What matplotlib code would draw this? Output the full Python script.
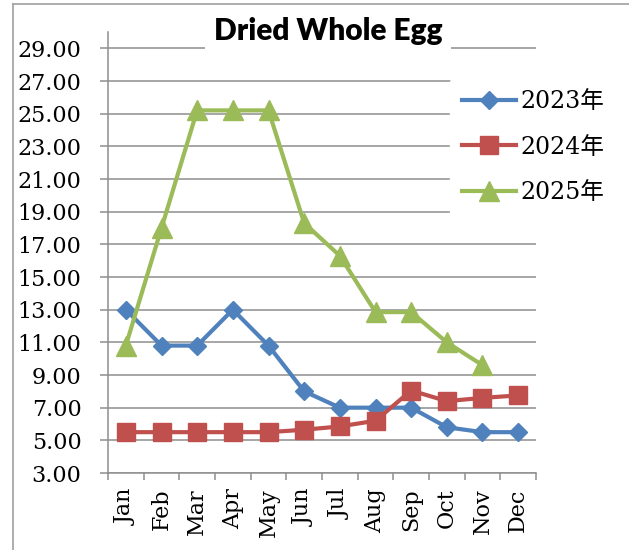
import matplotlib
matplotlib.use("Agg")
import matplotlib.pyplot as plt
from matplotlib.lines import Line2D
import numpy as np

months = ["Jan", "Feb", "Mar", "Apr", "May", "Jun", "Jul", "Aug", "Sep", "Oct", "Nov", "Dec"]
y2023 = [13.0, 10.8, 10.8, 13.0, 10.8, 8.0, 7.0, 7.0, 7.0, 5.8, 5.5, 5.5]
y2024 = [5.5, 5.5, 5.5, 5.5, 5.5, 5.65, 5.85, 6.2, 8.05, 7.4, 7.6, 7.75]
y2025 = [10.8, 18.0, 25.2, 25.2, 25.2, 18.3, 16.3, 12.85, 12.85, 11.0, 9.6]
yticks = [3, 5, 7, 9, 11, 13, 15, 17, 19, 21, 23, 25, 27, 29]

serif = ["DejaVu Serif", "Noto Sans CJK JP"]
grid_col = "#8e8e8e"

fig = plt.figure(figsize=(6.29, 5.50), dpi=100)
ax = fig.add_axes([108 / 629, 1 - 473 / 550, (536 - 108) / 629, (473 - 32) / 550])

x = np.arange(len(months))
ax.plot(x, y2023, color="#4F81BD", lw=3, marker="D", ms=9, label="2023年", zorder=3)
ax.plot(x, y2024, color="#C0504D", lw=3, marker="s", ms=13, label="2024年", zorder=3)
ax.plot(x[:len(y2025)], y2025, color="#9BBB59", lw=3, marker="^", ms=14, label="2025年", zorder=4)

ax.set_xlim(-0.5, 11.5)
ax.set_ylim(3, 30)
ax.set_yticks(yticks)
ax.set_yticklabels(["%.2f" % v for v in yticks], family=serif, fontsize=16)
ax.set_xticks(x)
ax.set_xticklabels(months, rotation=90, family=serif, fontsize=16, va="top")
ax.set_xticks(np.arange(-0.5, 12, 1), minor=True)
ax.tick_params(axis="x", which="major", length=0, pad=11)
ax.tick_params(axis="x", which="minor", length=5, color=grid_col, width=1.1)
ax.tick_params(axis="y", length=6, color=grid_col, width=1.1, pad=13)

ax.yaxis.grid(True, color=grid_col, lw=1.1)
ax.set_axisbelow(True)
for s in ["top", "right"]:
    ax.spines[s].set_visible(False)
for s in ["left", "bottom"]:
    ax.spines[s].set_color(grid_col)
    ax.spines[s].set_linewidth(1.1)

fig.text(328 / 629, 1 - 31 / 550, "Dried Whole Egg", ha="center", va="center",
         fontsize=21.5, fontweight="heavy", family="Lato",
         bbox=dict(facecolor="white", edgecolor="none", pad=6))

leg = fig.legend(loc="center left", bbox_to_anchor=(450 / 629, 1 - 147 / 550),
                 frameon=True, facecolor="white", edgecolor="white", framealpha=1,
                 prop={"family": serif, "size": 17}, handlelength=2.3,
                 handletextpad=0.2, labelspacing=0.95, borderpad=0.5, borderaxespad=0)

# outer chart border
fig.add_artist(Line2D([13 / 629, 13 / 629], [0, 1 - 4 / 550], color="#a0a0a0", lw=1.2))
fig.add_artist(Line2D([13 / 629, 1], [1 - 4 / 550, 1 - 4 / 550], color="#a0a0a0", lw=1.2))

fig.savefig("out.png", dpi=100)
